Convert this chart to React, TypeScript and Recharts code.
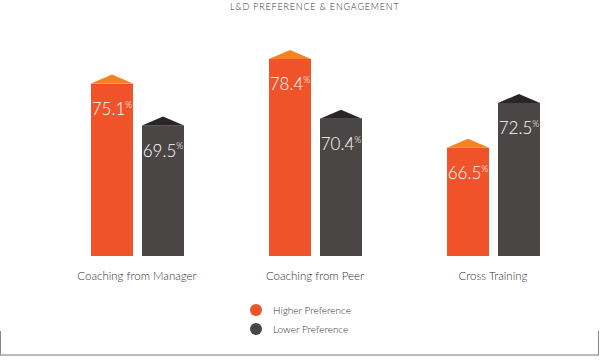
import { BarChart, Bar, XAxis, YAxis, LabelList } from 'recharts';

const categories = ['Coaching from Manager', 'Coaching from Peer', 'Cross Training'];
const higherPreference = [75.1, 78.4, 66.5];
const lowerPreference = [69.5, 70.4, 72.5];
const seriesNames = ['Higher Preference', 'Lower Preference'];

const ORANGE = '#F0532A';
const ORANGE_ROOF = '#F6821F';
const DARK = '#4A4645';
const DARK_ROOF = '#2A2526';
const FONT = 'Lato, "Open Sans", sans-serif';

const data = categories.map((name, i) => ({
  name,
  higher: higherPreference[i],
  lower: lowerPreference[i],
}));

const ROOF = 9;

function makeShape(roofColor: string) {
  return (props: any) => {
    const { x, y, width, height, fill } = props;
    return (
      <g>
        <rect x={x} y={y} width={width} height={height} fill={fill} />
        <polygon
          points={`${x},${y} ${x + width / 2},${y - ROOF} ${x + width},${y}`}
          fill={roofColor}
        />
      </g>
    );
  };
}

const renderValue = (props: any) => {
  const { x, y, width, value } = props;
  return (
    <text
      x={x + width / 2}
      y={y + 25}
      fill="#fff"
      textAnchor="middle"
      dominantBaseline="central"
      fontFamily={FONT}
      fontWeight={300}
      fontSize={17}
    >
      {value.toFixed(1)}
      <tspan fontSize={9} dy={-5}>%</tspan>
    </text>
  );
};

const CategoryTick = (props: any) => {
  const { x, y, payload } = props;
  return (
    <text
      x={x}
      y={y + 11}
      textAnchor="middle"
      dominantBaseline="central"
      fill="#333"
      fontFamily={FONT}
      fontWeight={300}
      fontSize={11.5}
    >
      {payload.value}
    </text>
  );
};

export default function App() {
  return (
    <div style={{ position: 'absolute', left: 0, top: 0, width: 600, height: 361, background: '#fff' }}>
      <div
        style={{
          position: 'absolute',
          top: 1,
          left: 230,
          whiteSpace: 'nowrap',
          fontFamily: FONT,
          fontWeight: 300,
          fontSize: 9,
          letterSpacing: 0.8,
          color: '#333',
        }}
      >
        L&amp;D PREFERENCE &amp; ENGAGEMENT
      </div>
      <BarChart
        width={600}
        height={361}
        data={data}
        margin={{ top: 47, right: 18, bottom: 75, left: 48 }}
        barSize={42}
        barGap={9}
      >
        <XAxis
          dataKey="name"
          axisLine={false}
          tickLine={false}
          height={30}
          tick={<CategoryTick />}
          interval={0}
        />
        <YAxis hide domain={[52, 80]} allowDataOverflow />
        <Bar
          dataKey="higher"
          name={seriesNames[0]}
          fill={ORANGE}
          shape={makeShape(ORANGE_ROOF)}
          isAnimationActive={false}
        >
          <LabelList dataKey="higher" content={renderValue} />
        </Bar>
        <Bar
          dataKey="lower"
          name={seriesNames[1]}
          fill={DARK}
          shape={makeShape(DARK_ROOF)}
          isAnimationActive={false}
        >
          <LabelList dataKey="lower" content={renderValue} />
        </Bar>
      </BarChart>
      <div
        style={{
          position: 'absolute',
          left: 250,
          top: 300,
          fontFamily: FONT,
          fontWeight: 300,
          fontSize: 10,
          color: '#333',
        }}
      >
        {seriesNames.map((n, i) => (
          <div key={n} style={{ display: 'flex', alignItems: 'center', height: 19 }}>
            <span
              style={{
                display: 'inline-block',
                width: 12,
                height: 12,
                borderRadius: 6,
                background: i === 0 ? ORANGE : DARK,
                marginRight: 11,
              }}
            />
            {n}
          </div>
        ))}
      </div>
      <div
        style={{
          position: 'absolute',
          left: 0,
          top: 331,
          width: 597,
          height: 23,
          borderLeft: '1px solid #888',
          borderRight: '1px solid #888',
          borderBottom: '2px solid #bbb',
        }}
      />
    </div>
  );
}
